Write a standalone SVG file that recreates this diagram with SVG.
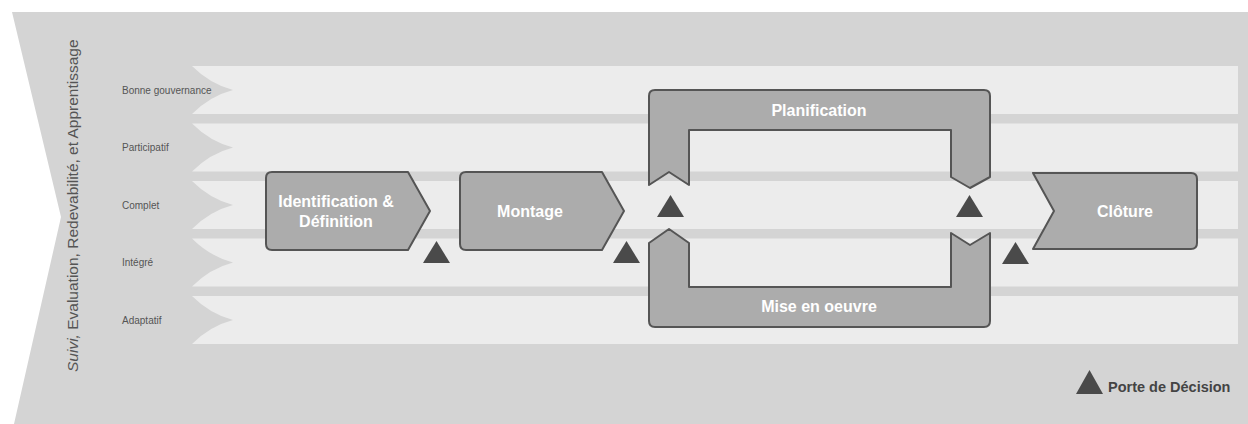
<svg xmlns="http://www.w3.org/2000/svg" width="1248" height="424" viewBox="0 0 1248 424">
  <style>
    .band { fill: #ececec; }
    .band-label { font-family: "Liberation Sans", Arial, sans-serif; font-size: 10px; fill: #555555; }
    .phase { fill: #acacac; stroke: #555555; stroke-width: 2; stroke-linejoin: round; }
    .phase-label { font-family: "Liberation Sans", Arial, sans-serif; font-size: 16px; font-weight: bold; fill: #ffffff; text-anchor: middle; }
    .gate { fill: #4a4a4a; }
    .side-label { font-family: "Liberation Sans", Arial, sans-serif; font-size: 15.5px; fill: #555555; }
    .legend-label { font-family: "Liberation Sans", Arial, sans-serif; font-size: 14.5px; font-weight: bold; fill: #444444; }
  </style>
  <defs>
    <!-- one principle band: chevron-cut left end, 48px tall -->
    <path id="band-shape" d="M192,0 H1238 V48 H192 Q210,30 233,24 Q210,18 192,0 Z"/>
    <polygon id="gate-shape" points="0,22 13.5,0 27,22"/>
  </defs>

  <!-- backdrop with concave left side -->
  <path d="M12,12 H1248 V424 H14 L61,217 Z" fill="#d4d4d4"/>

  <!-- cross-cutting function, read bottom to top -->
  <text class="side-label" transform="translate(78,372) rotate(-90)"><tspan font-style="italic">Suivi,</tspan> Evaluation, Redevabilité, et Apprentissage</text>

  <!-- principle bands -->
  <g id="principles">
    <g id="band-gouvernance">
      <use href="#band-shape" class="band" y="66"/>
      <text class="band-label" x="122" y="93.5">Bonne gouvernance</text>
    </g>
    <g id="band-participatif">
      <use href="#band-shape" class="band" y="123.5"/>
      <text class="band-label" x="122" y="151">Participatif</text>
    </g>
    <g id="band-complet">
      <use href="#band-shape" class="band" y="181"/>
      <text class="band-label" x="122" y="208.5">Complet</text>
    </g>
    <g id="band-integre">
      <use href="#band-shape" class="band" y="238.5"/>
      <text class="band-label" x="122" y="266">Intégré</text>
    </g>
    <g id="band-adaptatif">
      <use href="#band-shape" class="band" y="296"/>
      <text class="band-label" x="122" y="323.5">Adaptatif</text>
    </g>
  </g>

  <!-- project phases -->
  <g id="identification">
    <path class="phase" d="M272,172 H408 L430,211 L408,250 H272 Q266,250 266,244 V178 Q266,172 272,172 Z"/>
    <text class="phase-label" x="336" y="207">Identification &amp;</text>
    <text class="phase-label" x="336" y="227">Définition</text>
  </g>

  <g id="montage">
    <path class="phase" d="M466,172 H602 L624,211 L602,250 H466 Q460,250 460,244 V178 Q460,172 466,172 Z"/>
    <text class="phase-label" x="530" y="217">Montage</text>
  </g>

  <g id="planification">
    <path class="phase" d="M649,185 V96 Q649,90 655,90 H984 Q990,90 990,96 V177 L970,188 L951,177 V130 H689 V185 L669,172 Z"/>
    <text class="phase-label" x="819" y="116">Planification</text>
  </g>

  <g id="mise-en-oeuvre">
    <path class="phase" d="M649,243 L669,229 L689,243 V287 H951 V233 L970,245 L990,233 V321 Q990,327 984,327 H655 Q649,327 649,321 Z"/>
    <text class="phase-label" x="819" y="312">Mise en oeuvre</text>
  </g>

  <g id="cloture">
    <path class="phase" d="M1033,173 H1191 Q1197,173 1197,179 V243 Q1197,249 1191,249 H1033 L1054,211 Z"/>
    <text class="phase-label" x="1125" y="217">Clôture</text>
  </g>

  <!-- decision gates -->
  <g id="gates">
    <use href="#gate-shape" class="gate" x="423" y="241"/>
    <use href="#gate-shape" class="gate" x="613" y="241"/>
    <use href="#gate-shape" class="gate" x="657" y="195"/>
    <use href="#gate-shape" class="gate" x="956" y="195"/>
    <use href="#gate-shape" class="gate" x="1002" y="242"/>
  </g>

  <!-- legend -->
  <g id="legend">
    <polygon class="gate" points="1076,394 1089.5,370 1103,394"/>
    <text class="legend-label" x="1108" y="392">Porte de Décision</text>
  </g>
</svg>
